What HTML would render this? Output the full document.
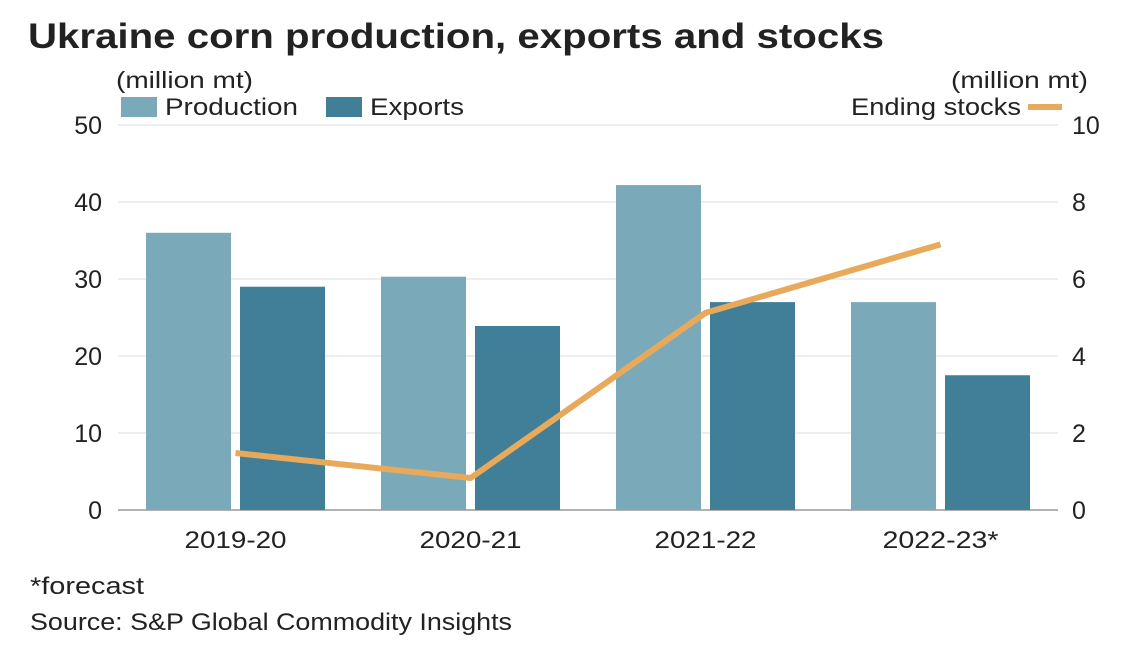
<!DOCTYPE html>
<html><head><meta charset="utf-8"><style>
body{margin:0;background:#fff;}
svg text{font-family:"Liberation Sans",sans-serif;fill:#222;}
</style></head><body>
<svg width="1130" height="650" xmlns="http://www.w3.org/2000/svg">
<text x="28" y="48" font-size="35" font-weight="bold" fill="#111" textLength="856" lengthAdjust="spacingAndGlyphs">Ukraine corn production, exports and stocks</text>
<text x="116" y="88" font-size="23" textLength="137" lengthAdjust="spacingAndGlyphs">(million mt)</text>
<text x="951" y="88" font-size="23" textLength="137" lengthAdjust="spacingAndGlyphs">(million mt)</text>
<g>
<rect x="121" y="97" width="36" height="20" fill="#7aaaba"/>
<text x="165" y="115" font-size="24" textLength="133" lengthAdjust="spacingAndGlyphs">Production</text>
<rect x="326" y="97" width="36" height="20" fill="#417f98"/>
<text x="370" y="115" font-size="24" textLength="94" lengthAdjust="spacingAndGlyphs">Exports</text>
<text x="851" y="115" font-size="24" textLength="170" lengthAdjust="spacingAndGlyphs">Ending stocks</text>
<line x1="1028" y1="107" x2="1062" y2="107" stroke="#e8a95a" stroke-width="6"/>
</g>
<g id="grid"></g><g id="bars"></g><g id="line"></g><g id="axes"></g>
<text x="30" y="594" font-size="24" textLength="114" lengthAdjust="spacingAndGlyphs">*forecast</text>
<text x="30" y="630" font-size="24" textLength="482" lengthAdjust="spacingAndGlyphs">Source: S&amp;P Global Commodity Insights</text>
</svg>
<script>
const categories=["2019-20","2020-21","2021-22","2022-23*"];
const production=[36,30.3,42.2,27];
const exports=[29,23.9,27,17.5];
const stocks=[1.48,0.83,5.12,6.9];
const leftTicks=[0,10,20,30,40,50];
const rightTicks=[0,2,4,6,8,10];
const NS="http://www.w3.org/2000/svg";
const X0=118,BAND=235,Y0=510,YT=125;
const yL=v=>Y0-(v/50)*(Y0-YT);
const yR=v=>Y0-(v/10)*(Y0-YT);
const cx=i=>X0+BAND*(i+0.5);
function mk(t,a,p){const e=document.createElementNS(NS,t);for(const k in a)e.setAttribute(k,a[k]);p.appendChild(e);return e;}
const grid=document.getElementById('grid'),bars=document.getElementById('bars'),line=document.getElementById('line'),axes=document.getElementById('axes');
leftTicks.forEach((t,i)=>{
 const g=mk('line',{x1:X0,x2:1058,y1:yL(t),y2:yL(t),stroke:t===0?'#999':'#ddd','stroke-width':t===0?1.5:1},grid);
 
 
 const l=mk('text',{x:102,y:yL(t)+9,'font-size':25,'text-anchor':'end'},axes);l.textContent=t;
 
 
});
rightTicks.forEach(t=>{
 const l=mk('text',{x:1072,y:yR(t)+9,'font-size':25},axes);l.textContent=t;
 
 
});
categories.forEach((c,i)=>{
 const p=mk('rect',{x:cx(i)-89.5,y:yL(production[i]),width:85,height:Y0-yL(production[i]),fill:'#7aaaba'},bars);
 
 
 const e=mk('rect',{x:cx(i)+4.5,y:yL(exports[i]),width:85,height:Y0-yL(exports[i]),fill:'#417f98'},bars);
 
 
 const l=mk('text',{x:cx(i),y:548,'font-size':24,'text-anchor':'middle',textLength:c.length>7?116:102,lengthAdjust:'spacingAndGlyphs'},axes);l.textContent=c;
 
 
});
const pl=mk('polyline',{points:stocks.map((v,i)=>cx(i)+','+yR(v)).join(' '),fill:'none',stroke:'#e8a95a','stroke-width':6,'stroke-linejoin':'round','stroke-linecap':'butt'},line);


</script>
</body></html>
